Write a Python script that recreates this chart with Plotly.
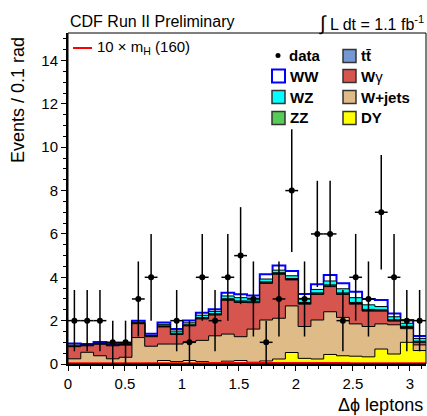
import numpy as np
import plotly.graph_objects as go

# ---------------- data ----------------
NBINS = 28
x_edges = np.linspace(0, np.pi, NBINS + 1)
x_centers = 0.5 * (x_edges[:-1] + x_edges[1:])

data = [2, 2, 2, 1, 1, 3, 4, 0, 2, 1, 4, 2, 4, 5, 3, 1, 3, 8, 3, 6, 6, 2, 4, 3, 7, 4, 2, 2]

DY = [0.01, 0.01, 0.01, 0.01, 0.01, 0.02, 0.03, 0.16, 0.11, 0.16, 0.11, 0.06, 0.13, 0.16,
      0.08, 0.14, 0.23, 0.53, 0.26, 0.23, 0.44, 0.38, 0.36, 0.33, 0.69, 0.46, 1.00, 0.62]
Wjets = [0.23, 0.53, 0.37, 0.23, 0.30, 1.20, 0.79, 0.76, 0.81, 0.86, 0.98, 1.24, 1.25, 1.10,
         1.53, 1.89, 1.88, 2.15, 1.47, 1.80, 1.97, 1.77, 1.49, 1.40, 1.16, 1.35, 0.63, 0.26]
Wgamma = [0.56, 0.30, 0.53, 0.60, 0.56, 0.64, 0.44, 0.79, 0.44, 0.74, 0.99, 0.96, 1.56, 1.58,
          1.22, 1.69, 2.03, 1.20, 1.03, 1.18, 1.16, 1.06, 0.91, 0.71, 0.59, 0.17, 0.05, 0.12]
ttbar = [0.01, 0.01, 0.01, 0.01, 0.01, 0.02, 0.02, 0.02, 0.03, 0.02, 0.03, 0.03, 0.03, 0.03,
         0.03, 0.03, 0.03, 0.02, 0.03, 0.03, 0.03, 0.03, 0.03, 0.03, 0.02, 0.02, 0.02, 0.02]
ZZ = [0.02, 0.01, 0.02, 0.01, 0.02, 0.02, 0.02, 0.03, 0.03, 0.03, 0.03, 0.03, 0.04, 0.04,
      0.04, 0.04, 0.04, 0.04, 0.05, 0.04, 0.05, 0.04, 0.05, 0.05, 0.04, 0.04, 0.04, 0.03]
WZ = [0.04, 0.02, 0.02, 0.02, 0.02, 0.03, 0.02, 0.07, 0.10, 0.09, 0.11, 0.11, 0.13, 0.15,
      0.14, 0.13, 0.12, 0.13, 0.19, 0.16, 0.18, 0.19, 0.22, 0.21, 0.15, 0.14, 0.14, 0.13]
WW = [0.08, 0.04, 0.06, 0.04, 0.05, 0.07, 0.07, 0.09, 0.09, 0.11, 0.12, 0.10, 0.15, 0.16,
      0.12, 0.22, 0.21, 0.22, 0.20, 0.24, 0.28, 0.25, 0.27, 0.27, 0.30, 0.15, 0.15, 0.11]
signal = [0.03, 0.03, 0.03, 0.03, 0.03, 0.03, 0.04, 0.04, 0.04, 0.04, 0.04, 0.05, 0.05, 0.05,
          0.05, 0.05, 0.05, 0.05, 0.05, 0.05, 0.05, 0.05, 0.04, 0.04, 0.04, 0.04, 0.03, 0.03]

# stack order bottom -> top
stack = [
    ("DY", DY, "#ffff00", "black", 1),
    ("W+jets", Wjets, "#dfbb88", "black", 1),
    ("Wgamma", Wgamma, "#d6554f", "black", 1),
    ("ttbar", ttbar, "#7598d4", "black", 1),
    ("ZZ", ZZ, "#55cc55", "black", 1),
    ("WZ", WZ, "#00ffff", "black", 1),
    ("WW", WW, "#ffffff", "#0000ff", 2),
]

# ---------------- geometry helpers ----------------
W, H = 427, 416
ML, MR, MT, MB = 68, 1, 33, 52
PW, PH = W - ML - MR, H - MT - MB


def px(x):
    return (x - ML) / PW


def py(y):
    return (H - MB - y) / PH


fig = go.Figure()

cum = np.zeros(NBINS)
levels = []
for name, vals, fc, lc, lw in stack:
    cum = cum + np.array(vals)
    levels.append((name, cum.copy(), fc, lc, lw))

# draw from top level down so that lower levels cover the upper fills
for name, lev, fc, lc, lw in reversed(levels):
    fig.add_trace(go.Scatter(
        x=list(x_edges), y=list(lev) + [lev[-1]],
        mode="lines", line=dict(shape="hv", color=lc, width=lw),
        fill="tozeroy", fillcolor=fc, hoverinfo="skip", showlegend=False))

# signal line
fig.add_trace(go.Scatter(
    x=list(x_edges), y=list(signal) + [signal[-1]],
    mode="lines", line=dict(shape="hv", color="#ff0000", width=2),
    hoverinfo="skip", showlegend=False))

# data points (empty bins not drawn)
dx, dy, de = [], [], []
for xc, n in zip(x_centers, data):
    if n > 0:
        dx.append(xc)
        dy.append(n)
        de.append(np.sqrt(n))
half = (x_edges[1] - x_edges[0]) / 2
fig.add_trace(go.Scatter(
    x=dx, y=dy, mode="markers",
    marker=dict(symbol="circle", size=6, color="black"),
    error_y=dict(type="data", array=de, color="black", thickness=1.5, width=0),
    error_x=dict(type="constant", value=half, color="black", thickness=1.5, width=0),
    showlegend=False))

FONT = "Liberation Sans, Arial, sans-serif"
shapes = []
annotations = []

# frame
shapes.append(dict(type="rect", xref="paper", yref="paper", x0=0, x1=1, y0=0, y1=1,
                   line=dict(color="black", width=1), layer="above"))

# top texts
annotations.append(dict(text="CDF Run II Preliminary", x=px(68), y=py(22), xref="paper", yref="paper",
                        xanchor="left", yanchor="middle", showarrow=False,
                        font=dict(family=FONT, size=16, color="black")))
annotations.append(dict(text="<span style='font-size:20px'>∫</span> L dt = 1.1 fb<sup>-1</sup>",
                        x=px(426), y=py(23), xref="paper", yref="paper",
                        xanchor="right", yanchor="middle", showarrow=False,
                        font=dict(family=FONT, size=16, color="black")))

# signal legend
shapes.append(dict(type="line", xref="paper", yref="paper", x0=px(73), x1=px(92), y0=py(48), y1=py(48),
                   line=dict(color="#ff0000", width=2)))
annotations.append(dict(text="10 × m<sub>H</sub> (160)", x=px(95), y=py(48), xref="paper", yref="paper",
                        xanchor="left", yanchor="middle", showarrow=False,
                        font=dict(family=FONT, size=15, color="black")))

# legend: data
shapes.append(dict(type="circle", xref="paper", yref="paper", x0=px(275.5), x1=px(280.5),
                   y0=py(53), y1=py(58), fillcolor="black", line=dict(color="black", width=0)))
annotations.append(dict(text="<b>data</b>", x=px(287), y=py(55), xref="paper", yref="paper",
                        xanchor="left", yanchor="middle", showarrow=False,
                        font=dict(family=FONT, size=15, color="black")))

legend_boxes = [
    (272, 76, "#ffffff", "#0000ff", 2, "<b>WW</b>"),
    (272, 97, "#00ffff", "#333333", 1.5, "<b>WZ</b>"),
    (272, 118, "#55cc55", "#333333", 1.5, "<b>ZZ</b>"),
    (343, 56, "#7598d4", "#333333", 1.5, "<b>tt̄</b>"),
    (343, 76, "#d6554f", "#333333", 1.5, "<b>W</b>γ"),
    (343, 97, "#dfbb88", "#333333", 1.5, "<b>W+jets</b>"),
    (343, 118, "#ffff00", "#333333", 1.5, "<b>DY</b>"),
]
for bx, by, fc, lc, lw, label in legend_boxes:
    shapes.append(dict(type="rect", xref="paper", yref="paper", x0=px(bx), x1=px(bx + 13),
                       y0=py(by + 6.5), y1=py(by - 6.5), fillcolor=fc, line=dict(color=lc, width=lw)))
    annotations.append(dict(text=label, x=px(bx + 16), y=py(by), xref="paper", yref="paper",
                            xanchor="left", yanchor="middle", showarrow=False,
                            font=dict(family=FONT, size=15, color="black")))

# axis titles
annotations.append(dict(text="Events / 0.1 rad", x=px(18), y=py(35), xref="paper", yref="paper",
                        xanchor="center", yanchor="top", textangle=-90, showarrow=False,
                        font=dict(family=FONT, size=18, color="black")))
annotations.append(dict(text="Δϕ leptons", x=px(425), y=py(405), xref="paper", yref="paper",
                        xanchor="right", yanchor="middle", showarrow=False,
                        font=dict(family=FONT, size=18, color="black")))

fig.update_layout(
    width=W, height=H,
    margin=dict(l=ML, r=MR, t=MT, b=MB, pad=0),
    paper_bgcolor="white", plot_bgcolor="white",
    font=dict(family=FONT, size=15, color="black"),
    shapes=shapes, annotations=annotations, showlegend=False,
    xaxis=dict(range=[0, np.pi], showgrid=False, zeroline=False,
               showline=True, linecolor="black", linewidth=2,
               ticks="outside", ticklen=5, tickwidth=1, tickcolor="black",
               tick0=0, dtick=0.5, tickfont=dict(family=FONT, size=15),
               minor=dict(ticks="outside", ticklen=3, dtick=0.1, tickcolor="black", showgrid=False)),
    yaxis=dict(range=[0, 15.27], showgrid=False, zeroline=False,
               showline=True, linecolor="black", linewidth=2,
               ticks="outside", ticklen=5, tickwidth=1, tickcolor="black",
               tick0=0, dtick=2, tickfont=dict(family=FONT, size=15),
               minor=dict(ticks="outside", ticklen=3, dtick=0.5, tickcolor="black", showgrid=False)),
)

fig.write_html("out.html")
